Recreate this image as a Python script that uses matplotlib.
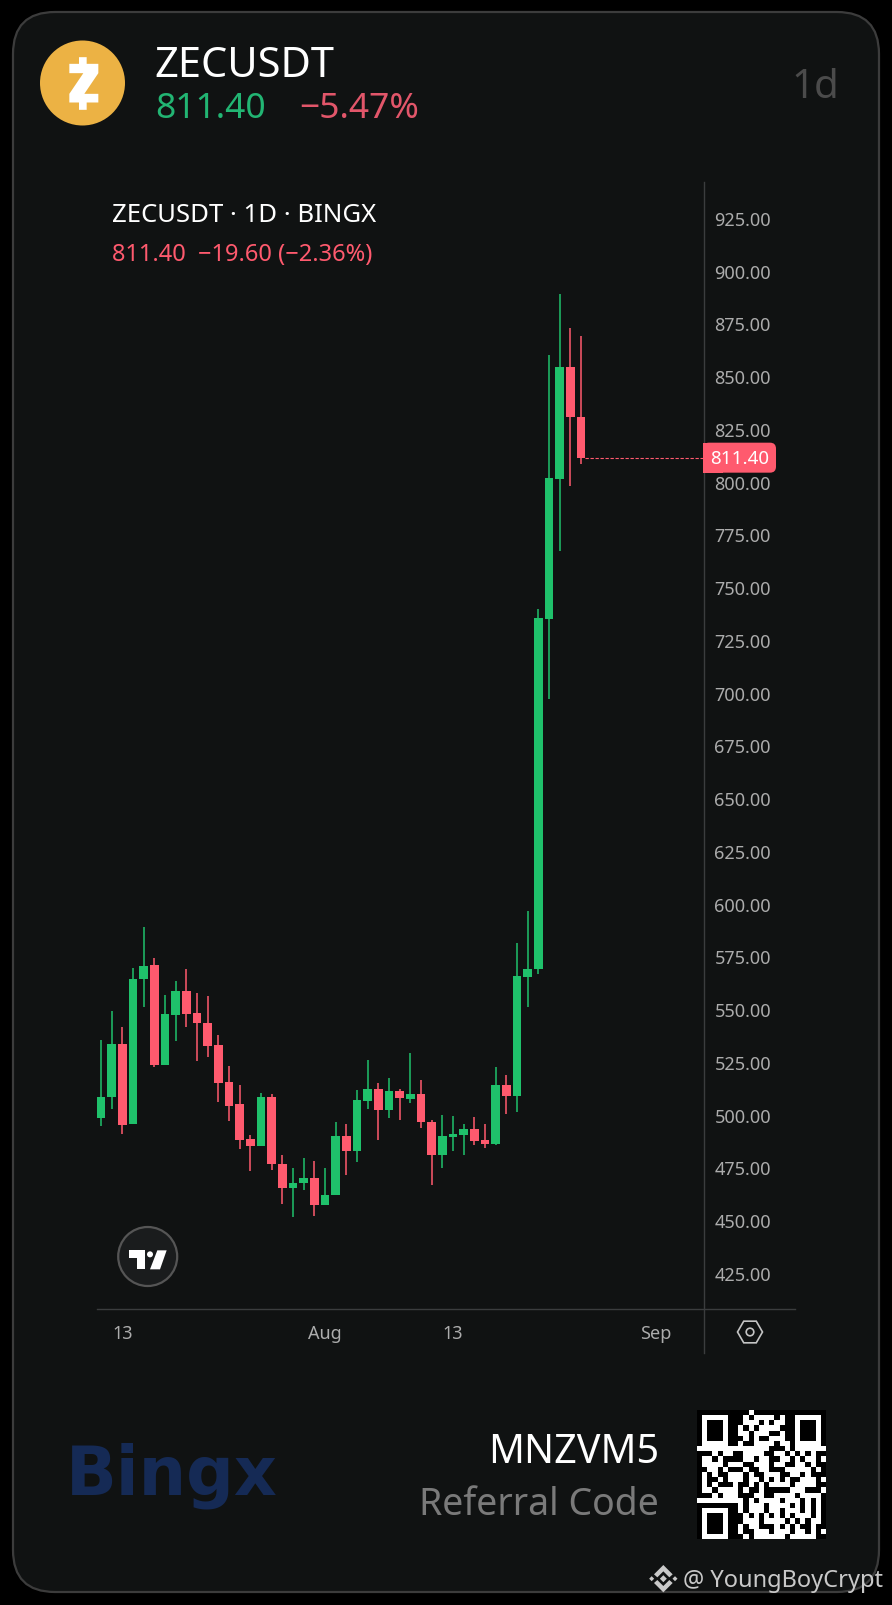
import numpy as np
import matplotlib
matplotlib.use("Agg")
import matplotlib.pyplot as plt
from matplotlib.patches import Circle, FancyBboxPatch, Polygon, Rectangle, RegularPolygon

plt.rcParams["font.family"] = ["Noto Sans", "DejaVu Sans"]

# Daily candles
opens = [498.6, 508.4, 533.5, 495.6, 564.1, 570.9, 523.7, 547.4, 558.6, 548.2, 543.6, 532.9,
         515.5, 505.3, 488.7, 485.0, 508.6, 476.7, 465.3, 467.4, 470.2, 457.4, 461.9, 490.1,
         483.0, 506.7, 512.4, 502.4, 511.4, 507.6, 510.0, 496.6, 481.1, 489.6, 490.6, 493.4,
         487.9, 486.0, 514.3, 508.7, 565.4, 569.2, 734.9, 801.5, 854.2, 830.7]
highs = [535.4, 549.3, 541.7, 569.5, 588.9, 574.2, 556.6, 563.5, 569.2, 557.7, 556.2, 537.9,
         523.2, 513.9, 490.6, 510.5, 509.8, 480.8, 474.8, 479.7, 477.9, 474.5, 496.4, 495.6,
         511.9, 525.9, 515.0, 517.6, 512.0, 529.4, 516.3, 497.5, 499.7, 499.3, 495.6, 499.1,
         495.8, 522.6, 518.8, 581.5, 596.5, 739.6, 859.9, 888.8, 872.7, 869.0]
lows = [494.7, 502.9, 490.7, 495.6, 550.9, 522.6, 523.7, 535.1, 541.6, 525.5, 527.3, 506.0,
        496.9, 483.9, 473.5, 485.0, 473.8, 457.8, 451.7, 464.1, 452.2, 457.4, 461.9, 471.5,
        477.6, 502.9, 488.2, 498.6, 497.7, 505.6, 493.9, 466.7, 474.8, 482.8, 480.8, 485.8,
        484.4, 485.4, 500.4, 501.3, 550.9, 566.5, 697.0, 767.2, 797.9, 808.3]
closes = [508.6, 533.5, 495.3, 564.4, 570.7, 523.7, 547.6, 558.6, 547.9, 543.6, 532.7, 515.2,
          504.3, 488.2, 485.0, 508.6, 476.4, 465.3, 467.8, 470.2, 457.4, 462.0, 490.1, 483.0,
          507.0, 512.4, 502.4, 511.4, 507.8, 510.0, 496.3, 481.1, 490.1, 491.0, 493.4, 487.7,
          486.0, 514.3, 508.7, 565.5, 569.2, 735.2, 801.7, 854.2, 830.7, 811.4]
last_price = 811.40

price_ticks = list(range(425, 950, 25))
date_ticks = [2, 21, 33, 52]
date_labels = ["13", "Aug", "13", "Sep"]

# QR code of the referral link, # is a white module
qr_rows = [
    "..........#..............",
    ".#####...#.####.#..#####.",
    ".#...#...###.#.##..#...#.",
    ".#...#..#.#.####...#...#.",
    ".#...#..##.###..#..#...#.",
    ".#...#...#.#..###..#...#.",
    ".#####..#..####.##.#####.",
    "##############...#.######",
    "...#.##..####..##.#.#.#..",
    ".##.#....##.##..##.#.##.#",
    ".####.###..###.##..##.#..",
    "..##.#...#..##...#####.#.",
    ".#.#..###.#..###..##.#...",
    ".#..#.###.##.#.#.#..###.#",
    ".#.#...#..#.#.####.####..",
    ".##.####.#..#.....###...#",
    "...#.###...##..####.####.",
    "#########.#.####.###.#.#.",
    "........#.###.####.#.#.#.",
    ".#####..#.###.##.###.#.#.",
    ".#...#...#.#.#.#.#.###.#.",
    ".#...#...###.####.#.#.##.",
    ".#...#..#.##...#.#.#..#..",
    ".#...#..#..###.###.##.#.#",
    ".#####...#.######.#####..",
]

GREEN = "#1fc16b"
RED = "#ff5a6e"
CARD = "#101212"
GREY = "#acacac"
LINE = "#3b3d3e"

fig = plt.figure(figsize=(8.92, 16.06), dpi=100, facecolor="black")

# Background layer works in picture pixels
bg = fig.add_axes([0, 0, 1, 1])
bg.set_xlim(0, 892)
bg.set_ylim(1606, 0)
bg.axis("off")

bg.add_patch(FancyBboxPatch((13, 13), 866, 1580, boxstyle="round,pad=0,rounding_size=42",
                            fc=CARD, ec="#3c3c3c", lw=1.6))

# Zcash coin
bg.add_patch(Circle((82.5, 84), 42.5, fc="#ecb244", ec="none"))
z_shape = np.array([(147, 80), (170, 80), (170, 100), (205, 100), (205, 128), (163, 190), (205, 190),
                    (205, 216), (170, 216), (170, 238), (147, 238), (147, 216), (118, 216), (118, 190),
                    (160, 128), (118, 128), (118, 100), (147, 100)]) / 3 + [30, 31.5]
bg.add_patch(Polygon(z_shape, fc="white", ec="none"))

bg.text(154, 66, "ZECUSDT", color="white", fontsize=30, va="center")
bg.text(155, 109, "811.40", color="#22b573", fontsize=25.5, va="center")
bg.text(299, 109, "−5.47%", color="#e2566a", fontsize=25.5, va="center")
bg.text(839, 88, "1d", color="#4b4b4b", fontsize=29, va="center", ha="right")

bg.text(112, 216, "ZECUSDT · 1D · BINGX", color="white", fontsize=18.5, va="center")
bg.text(112, 255, "811.40  −19.60 (−2.36%)", color=RED, fontsize=17, va="center")

# Price and time scale lines
bg.plot([704, 704], [183, 1354], color=LINE, lw=1)
bg.plot([97, 795], [1310, 1310], color=LINE, lw=1)

# Tradingview badge
bg.add_patch(Circle((147.7, 1257.5), 29.5, fc="#1a1c1d", ec="#555555", lw=1.6))
tv_t = np.array([(88, 103), (135, 103), (135, 160), (110, 160), (110, 125), (88, 125)]) / 3 + [100, 1217]
tv_slash = np.array([(172, 103), (200, 103), (180, 160), (150, 160)]) / 3 + [100, 1217]
bg.add_patch(Polygon(tv_t, fc="white", ec="none"))
bg.add_patch(Polygon(tv_slash, fc="white", ec="none"))
bg.add_patch(Circle((150 / 3 + 100, 115 / 3 + 1217), 3, fc="white", ec="none"))

# Settings icon
bg.add_patch(RegularPolygon((750, 1333), 6, radius=12.5, orientation=np.pi / 6, fc="none", ec="#c4c4c4", lw=1.2))
bg.add_patch(Circle((750, 1333), 3.8, fc="none", ec="#c4c4c4", lw=1.2))

# Footer
bg.text(66, 1476, "Bingx", color="#152a55", fontsize=48, fontweight="bold", family="DejaVu Sans", va="center")
bg.text(659, 1453, "MNZVM5", color="white", fontsize=28.5, va="center", ha="right")
bg.text(659, 1505, "Referral Code", color="#7a7a7a", fontsize=27, va="center", ha="right")

qr = np.array([[ch == "#" for ch in row] for row in qr_rows], dtype=float)
bg.imshow(qr, cmap="gray", vmin=0, vmax=1, extent=(697, 826, 1540, 1411), aspect="auto",
          interpolation="nearest", zorder=3)
bg.set_xlim(0, 892)
bg.set_ylim(1606, 0)

# Watermark, binance mark first
WM = "#c9c9c9"
top_chevron = np.array([(70, 78), (98, 106), (88, 115), (70, 97), (52, 115), (42, 106)], dtype=float)
bottom_chevron = top_chevron.copy()
bottom_chevron[:, 1] = 238 - bottom_chevron[:, 1]
for shape in (top_chevron, bottom_chevron):
    bg.add_patch(Polygon(shape / 3 + [640, 1540], fc=WM, ec="none", zorder=4))
for cx, r in [(35, 2.5), (105, 2.5), (70, 3.5)]:
    bg.add_patch(RegularPolygon((640 + cx / 3, 1579.7), 4, radius=r, fc=WM, ec="none", zorder=4))
bg.text(683, 1581, "@ YoungBoyCrypt", color=WM, fontsize=17, va="center", zorder=4)

# Chart, x is the day number and y the price
ax = fig.add_axes([96 / 892, 1 - 1310 / 1606, (704 - 96) / 892, (1310 - 183) / 1606])
ax.patch.set_alpha(0)
for side in ax.spines.values():
    side.set_visible(False)

x = np.arange(len(opens))
o = np.array(opens)
c = np.array(closes)
colors = [GREEN if cl >= op else RED for op, cl in zip(o, c)]

ax.vlines(x, lows, highs, colors=colors, lw=1.1)
ax.bar(x, np.abs(c - o), bottom=np.minimum(o, c), width=0.84, color=colors, linewidth=0)

ax.plot([x[-1] + 0.42, 56.53], [last_price, last_price], color=RED, lw=0.8, ls=(0, (3, 1.5)))

ax.set_xlim(-0.47, 56.53)
ax.set_ylim(407.9, 942.06)

ax.yaxis.tick_right()
ax.set_yticks(price_ticks)
ax.set_yticklabels([f"{p:.2f}" for p in price_ticks])
ax.set_xticks(date_ticks)
ax.set_xticklabels(date_labels)
ax.tick_params(axis="y", length=0, pad=7.5, labelsize=13, labelcolor=GREY)
ax.tick_params(axis="x", length=0, pad=10.5, labelsize=13, labelcolor=GREY)

# Last price tag, flat on the scale side
tag_px = ax.transData.transform((0, last_price))[1]
tag_y = 1606 - tag_px
bg.add_patch(FancyBboxPatch((703, tag_y - 15), 73, 30, boxstyle="round,pad=0,rounding_size=6",
                            fc=RED, ec="none", zorder=5))
bg.add_patch(Rectangle((703, tag_y - 15), 20, 30, fc=RED, ec="none", zorder=5))
bg.text(739.5, tag_y, "811.40", color="white", fontsize=13.5, ha="center", va="center", zorder=6)

fig.savefig("out.png", dpi=100, facecolor=fig.get_facecolor())
